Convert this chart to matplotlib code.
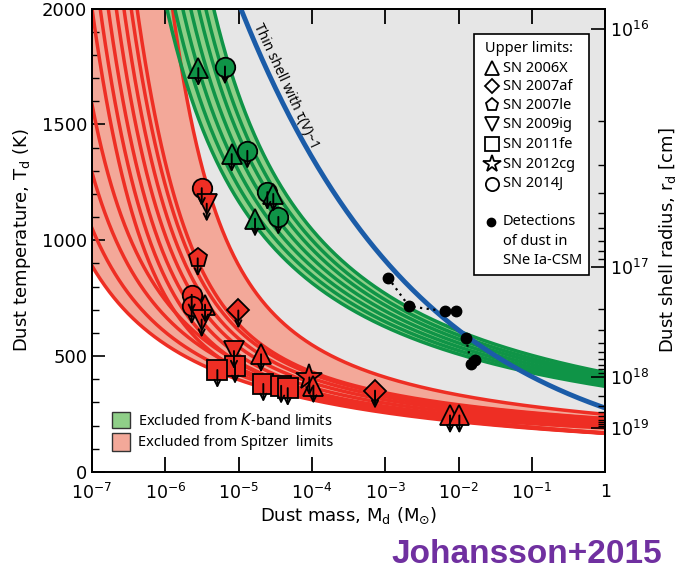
import numpy as np
import matplotlib
matplotlib.use('Agg')
import matplotlib.pyplot as plt
from matplotlib.patches import Rectangle

# ---------------- data ----------------
mass_decades = [-7, -6, -5, -4, -3, -2, -1, 0]
mass_tick_labels = [r'10$^{-7}$', r'10$^{-6}$', r'10$^{-5}$', r'10$^{-4}$',
                    r'10$^{-3}$', r'10$^{-2}$', r'10$^{-1}$', '1']
temp_ticks = [0, 500, 1000, 1500, 2000]
radius_decades = [16, 17, 18, 19]
radius_tick_labels = [r'10$^{16}$', r'10$^{17}$', r'10$^{18}$', r'10$^{19}$']
radius_T_at_1e16 = 1910.0    # K at r = 1e16 cm
radius_power = 3.0           # r ~ T^-3

# limit curves  T = theta / ln(1 + 10^(logM - logA))^power
red_theta = [3300, 3200, 3100, 3000, 830, 860, 890, 920, 945, 966, 966, 1545]
red_logA = [-8.60, -8.30, -8.00, -7.75, -6.35, -6.27, -6.19, -6.11, -6.03, -5.95, -5.87, -5.90]
red_power = [1.0, 1.0, 1.0, 1.0, 0.55, 0.55, 0.55, 0.55, 0.55, 0.55, 0.55, 0.70]
green_theta = [6220, 6300, 6380, 6460, 6540, 6620, 6700]
green_logA = [-7.31, -7.22, -7.13, -7.04, -6.95, -6.87, -6.78]
green_power = [1.0, 1.0, 1.0, 1.0, 1.0, 1.0, 1.0]

# thin shell tau(V)~1 : T = T0 * (M/M0)^slope
blue_logM0 = -4.97
blue_T0 = 2000.0
blue_slope = -0.173

# upper limits (marker, log10 M, T)
green_marks = [('^', -5.550, 1743), ('o', -5.186, 1750), ('^', -5.094, 1372),
               ('o', -4.881, 1386), ('o', -4.608, 1208), ('^', -4.527, 1200),
               ('^', -4.776, 1093), ('o', -4.458, 1101)]
red_marks = [('o', -5.503, 1225), ('v', -5.435, 1158), ('p', -5.558, 922),
             ('o', -5.640, 765), ('^', -5.458, 722), ('o', -5.640, 715),
             ('v', -5.504, 658), ('D', -5.004, 697), ('v', -5.063, 522),
             ('s', -5.049, 458), ('s', -5.290, 440), ('^', -4.694, 508),
             ('s', -4.663, 380), ('s', -4.420, 372), ('s', -4.330, 362),
             ('*', -4.035, 408), ('^', -3.980, 373), ('D', -3.139, 351),
             ('^', -2.116, 244), ('^', -1.989, 244)]

det_logM = [-2.962, -2.675, -2.184, -2.034, -1.898, -1.829, -1.775]
det_T = [839, 715, 694, 694, 578, 467, 484]
det_links = [[0, 1, 2], [4, 5]]

upper_limit_names = ['SN 2006X', 'SN 2007af', 'SN 2007le', 'SN 2009ig',
                     'SN 2011fe', 'SN 2012cg', 'SN 2014J']
upper_limit_markers = ['^', 'D', 'p', 'v', 's', '*', 'o']

# ---------------- style ----------------
RED = '#ee2e24'
PALE_RED = '#f3a899'
GREEN = '#0f9447'
PALE_GREEN = '#8fcf88'
GRAY = '#e6e6e6'
BLUE = '#1b5ca8'

plt.rcParams['font.family'] = ['DejaVu Sans']
fig = plt.figure(figsize=(6.83, 5.73), dpi=100)
ax = fig.add_axes([0.1347, 0.1763, 0.886 - 0.1347, 0.985 - 0.1763])

logm = np.linspace(-7, 0, 800)
M = 10 ** logm


def limit_curve(theta, logA, power):
    return theta / np.log1p(10 ** (logm - logA)) ** power


red_curves = np.array([limit_curve(t, a, p) for t, a, p in zip(red_theta, red_logA, red_power)])
green_curves = np.array([limit_curve(t, a, p) for t, a, p in zip(green_theta, green_logA, green_power)])

red_lo, red_hi = red_curves.min(axis=0), red_curves.max(axis=0)
green_lo, green_hi = green_curves.min(axis=0), green_curves.max(axis=0)

# background
ax.fill_between(M, red_lo, 2100, color=GRAY, lw=0, zorder=0.5)
ax.fill_between(M, red_lo, red_hi, color=PALE_RED, lw=0, zorder=1)
ax.fill_between(M, green_lo, green_hi, color=PALE_GREEN, lw=0, zorder=1)
for c in red_curves:
    ax.plot(M, c, color=RED, lw=2.5, zorder=2)
for c in green_curves:
    ax.plot(M, c, color=GREEN, lw=2.5, zorder=2)

blue = blue_T0 * (M / 10 ** blue_logM0) ** blue_slope
ax.plot(M, blue, color=BLUE, lw=3.5, zorder=3)
ax.text(10 ** -4.36, 1665, 'Thin shell with τ(V)~1', rotation=-65,
        ha='center', va='center', fontsize=10, family='Noto Sans', zorder=3)

# detections
for link in det_links:
    ax.plot([10 ** det_logM[i] for i in link], [det_T[i] for i in link],
            ls=(0, (1, 2)), color='k', lw=1.6, zorder=4)
ax.plot(10 ** np.array(det_logM), det_T, 'o', color='k', ms=7.5, zorder=4)

sizes = {'o': 14, '^': 14, 'v': 14, 's': 14, 'p': 14, 'D': 11, '*': 19}


def draw_marks(marks, color):
    for mk, lm, t in marks:
        ax.annotate('', xy=(10 ** lm, t - 78), xytext=(10 ** lm, t),
                    arrowprops=dict(arrowstyle='->', color='k', lw=1.4,
                                    shrinkA=0, shrinkB=0, mutation_scale=11),
                    zorder=6)
        ax.plot(10 ** lm, t, mk, ms=sizes[mk], mfc=color, mec='k', mew=1.3,
                zorder=5)


draw_marks(green_marks, GREEN)
draw_marks(red_marks, RED)

# axes
ax.set_xscale('log')
ax.set_xlim(1e-7, 1)
ax.set_ylim(0, 2000)
ax.set_xticks([10.0 ** d for d in mass_decades])
ax.set_xticklabels(mass_tick_labels, fontsize=12.5)
ax.xaxis.set_minor_locator(matplotlib.ticker.NullLocator())
ax.set_yticks(temp_ticks)
ax.set_yticklabels([str(t) for t in temp_ticks], fontsize=13)
ax.set_yticks(np.arange(0, 2001, 100), minor=True)
ax.tick_params(axis='x', which='major', direction='in', length=11, width=1.3,
               top=True, pad=8)
ax.tick_params(axis='y', which='major', direction='in', length=9, width=1.2,
               right=False)
ax.tick_params(axis='y', which='minor', direction='in', length=5, width=1.0,
               right=False)
for s in ax.spines.values():
    s.set_linewidth(1.3)
ax.set_xlabel(r'Dust mass, M$_{\rm d}$ (M$_{\odot}$)', fontsize=13, labelpad=2)
ax.set_ylabel(r'Dust temperature, T$_{\rm d}$ (K)', fontsize=13, labelpad=6)

# right axis: dust shell radius
ax2 = ax.twinx()
ax2.set_ylim(0, 2000)


def radius_to_T(logr):
    return radius_T_at_1e16 * 10 ** (-(logr - 16) / radius_power)


ax2.set_yticks([radius_to_T(d) for d in radius_decades])
ax2.set_yticklabels(radius_tick_labels, fontsize=12.5)
minor_r = [radius_to_T(d + np.log10(k)) for d in radius_decades[:-1] for k in range(2, 10)]
ax2.set_yticks(minor_r, minor=True)
ax2.tick_params(axis='y', which='major', direction='in', length=10, width=1.2)
ax2.tick_params(axis='y', which='minor', direction='in', length=5, width=1.0)
ax2.set_ylabel(r'Dust shell radius, r$_{\rm d}$ [cm]', fontsize=13, labelpad=6)
for s in ax2.spines.values():
    s.set_linewidth(1.3)

# upper-limits legend box
LF = 'Noto Sans'
ax.add_patch(Rectangle((0.745, 0.426), 0.224, 0.52, transform=ax.transAxes,
                       facecolor='white', edgecolor='black', lw=1.2, zorder=10))
ax.text(0.766, 0.914, 'Upper limits:', transform=ax.transAxes, fontsize=10.5,
        family=LF, va='center', zorder=11)
ys = [0.8715, 0.832, 0.791, 0.750, 0.707, 0.664, 0.622]
for y, name, mk in zip(ys, upper_limit_names, upper_limit_markers):
    ax.plot(0.780, y, mk, transform=ax.transAxes, ms=sizes[mk] * 0.68, mfc='none',
            mec='k', mew=1.3, zorder=11, clip_on=False)
    ax.text(0.801, y, name, transform=ax.transAxes, fontsize=10.5, family=LF,
            va='center', zorder=11)
ax.plot(0.778, 0.540, 'o', transform=ax.transAxes, ms=6, color='k', zorder=11)
for y, t in zip([0.540, 0.497, 0.456], ['Detections', 'of dust in', 'SNe Ia-CSM']):
    ax.text(0.801, y, t, transform=ax.transAxes, fontsize=10.5, family=LF,
            va='center', zorder=11)

# excluded-region legend
ax.add_patch(Rectangle((0.039, 0.094), 0.036, 0.036, transform=ax.transAxes,
                       facecolor=PALE_GREEN, edgecolor='#333333', lw=1.0, zorder=10))
ax.add_patch(Rectangle((0.039, 0.046), 0.036, 0.038, transform=ax.transAxes,
                       facecolor=PALE_RED, edgecolor='#333333', lw=1.0, zorder=10))
ax.text(0.090, 0.111, r'Excluded from $K$-band limits', transform=ax.transAxes,
        fontsize=10.5, family=LF, va='center', zorder=11)
ax.text(0.090, 0.064, 'Excluded from Spitzer  limits', transform=ax.transAxes,
        fontsize=10.5, family=LF, va='center', zorder=11)

fig.text(0.969, 0.017, 'Johansson+2015', ha='right', va='baseline',
         fontsize=24, fontweight='bold', color='#7030a0', family='Liberation Sans')

fig.savefig('out.png', dpi=100)
